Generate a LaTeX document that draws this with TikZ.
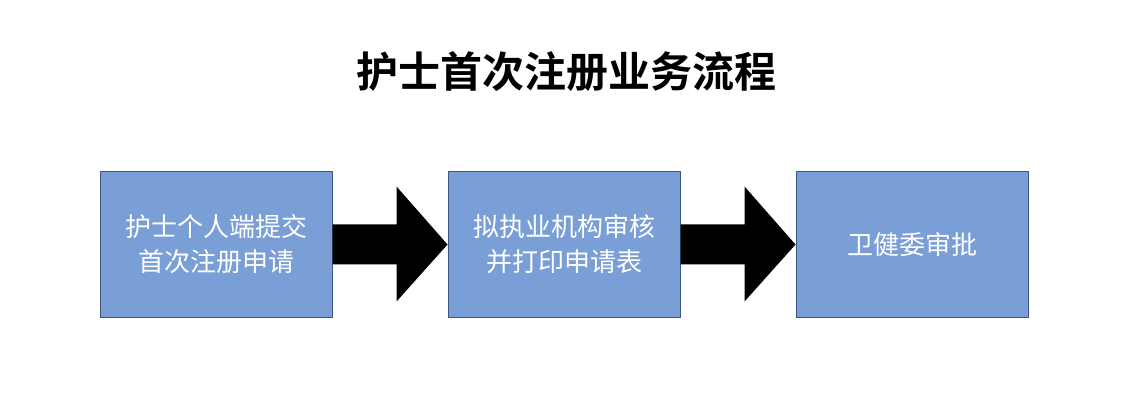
\documentclass[tikz,border=0pt]{standalone}
\usepackage{fontspec}
\newfontfamily\cjk{Noto Sans CJK SC}
\newfontfamily\cjkbold{Noto Sans CJK SC Bold}
\usetikzlibrary{calc}
\definecolor{boxfill}{RGB}{122,158,214}
\definecolor{boxline}{RGB}{62,86,128}
\begin{document}
\begin{tikzpicture}[x=1pt,y=-1pt,
  stepbox/.style={draw=boxline,line width=1pt,fill=boxfill,minimum width=232pt,minimum height=145pt,inner sep=0pt,
    text=white,font=\cjk\fontsize{26}{35}\selectfont,align=center},
  blockarrow/.style={fill=black,draw=none}]
\useasboundingbox (0,0) rectangle (1125,414);
\fill[white] (0,0) rectangle (1125,414);
\node[font=\cjkbold\fontsize{42}{48}\selectfont,inner sep=0pt] (title) at (566,72) {护士首次注册业务流程};
\node[stepbox] (b1) at (216,244.5) {护士个人端提交\\首次注册申请};
\node[stepbox] (b2) at (564,244.5) {拟执业机构审核\\并打印申请表};
\node[stepbox] (b3) at (912,244.5) {卫健委审批};
\foreach \a/\b in {b1/b2,b2/b3}{
  \fill[blockarrow] ($(\a.east)+(0,-20)$) -- ($(\a.east)+(64,-20)$) -- ($(\a.east)+(64,-58)$)
    -- (\b.west) -- ($(\a.east)+(64,57)$) -- ($(\a.east)+(64,20)$) -- ($(\a.east)+(0,20)$) -- cycle;
}
\end{tikzpicture}
\end{document}
